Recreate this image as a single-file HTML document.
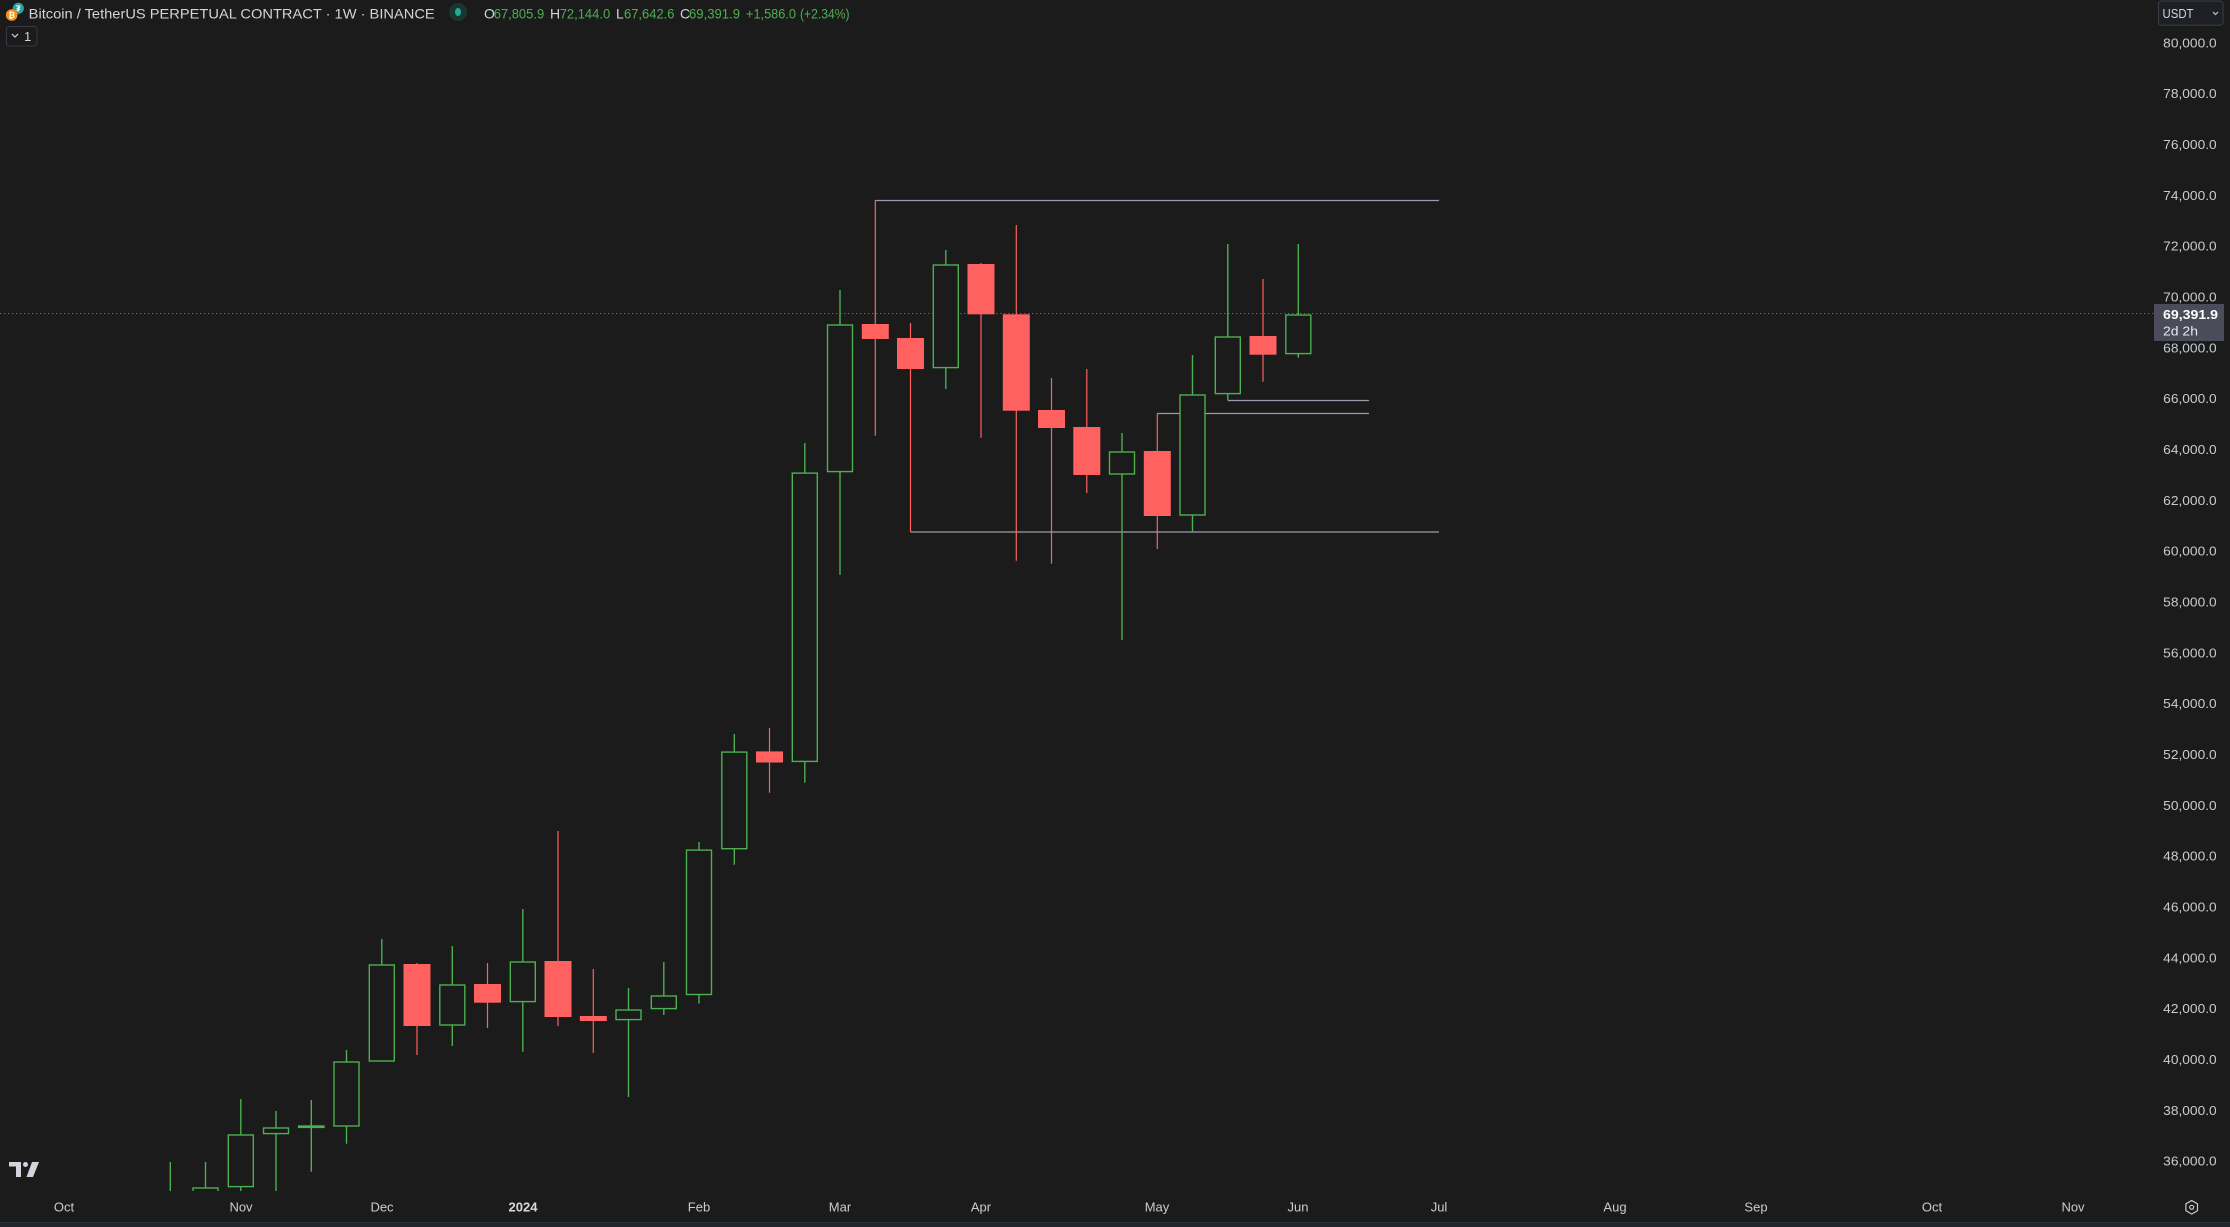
<!DOCTYPE html>
<html><head><meta charset="utf-8"><style>
html,body{margin:0;padding:0;background:#1b1b1b;}
svg{display:block;}
text{font-family:"Liberation Sans",sans-serif;}
</style></head><body>
<svg width="2230" height="1227" viewBox="0 0 2230 1227" xmlns="http://www.w3.org/2000/svg">
<rect x="0" y="0" width="2230" height="1227" fill="#1b1b1b"/>
<defs><clipPath id="cp"><rect x="0" y="0" width="2150" height="1191"/></clipPath></defs>

<!-- current price dotted line -->
<line x1="0" y1="313.5" x2="2154" y2="313.5" stroke="#5f626c" stroke-width="1" stroke-dasharray="1.5 2.5"/>

<g clip-path="url(#cp)">
<!-- drawn lines -->
<g stroke="#9d9cab" stroke-width="1.3" fill="none">
<line x1="875.3" y1="200.5" x2="1439" y2="200.5"/>
<line x1="910.5" y1="532" x2="1439" y2="532"/>
<line x1="1157.3" y1="413.5" x2="1369" y2="413.5"/>
<line x1="1227.8" y1="400.5" x2="1369" y2="400.5"/>
</g>

<!-- green candles -->
<g stroke="#4caf50" stroke-width="1.4" fill="#1b1b1b">
<line x1="170.3" y1="1162" x2="170.3" y2="1195"/>
<line x1="205.5" y1="1162" x2="205.5" y2="1195"/><rect x="193" y="1188" width="25" height="30"/>
<line x1="240.8" y1="1099" x2="240.8" y2="1195"/><rect x="228.3" y="1135" width="25" height="51.6"/>
<line x1="276" y1="1111" x2="276" y2="1195"/><rect x="263.5" y="1128" width="25" height="5.6"/>
<line x1="311.3" y1="1100" x2="311.3" y2="1171.7"/><rect x="298.6" y="1126" width="25.4" height="1.4" fill="#4caf50"/>
<line x1="346.5" y1="1050" x2="346.5" y2="1143.7"/><rect x="334" y="1062" width="25" height="64"/>
<line x1="381.8" y1="939" x2="381.8" y2="1061.7"/><rect x="369.3" y="965" width="25" height="96"/>
<line x1="452.3" y1="946" x2="452.3" y2="1046"/><rect x="439.8" y="985" width="25" height="40"/>
<line x1="522.8" y1="909" x2="522.8" y2="1051.7"/><rect x="510.3" y="962" width="25" height="39.6"/>
<line x1="628.5" y1="988" x2="628.5" y2="1097"/><rect x="616" y="1010" width="25" height="9.6"/>
<line x1="663.8" y1="962" x2="663.8" y2="1015"/><rect x="651.3" y="996" width="25" height="12.6"/>
<line x1="699" y1="842" x2="699" y2="1003.6"/><rect x="686.5" y="850.1" width="25" height="144.4"/>
<line x1="734.3" y1="734" x2="734.3" y2="864.7"/><rect x="721.8" y="752.1" width="25" height="96.6"/>
<line x1="804.8" y1="443" x2="804.8" y2="782.8"/><rect x="792.3" y="473.1" width="25" height="288.3"/>
<line x1="840" y1="290" x2="840" y2="574.7"/><rect x="827.5" y="325" width="25" height="146.6"/>
<line x1="945.8" y1="250" x2="945.8" y2="389"/><rect x="933.3" y="265" width="25" height="102.6"/>
<line x1="1122" y1="433" x2="1122" y2="640"/><rect x="1109.5" y="452" width="25" height="22"/>
<line x1="1192.5" y1="355" x2="1192.5" y2="532"/><rect x="1180" y="395" width="25" height="120"/>
<line x1="1227.8" y1="244" x2="1227.8" y2="400.3"/><rect x="1215.3" y="337" width="25" height="56.6"/>
<line x1="1298.3" y1="244" x2="1298.3" y2="357.7"/><rect x="1285.8" y="315" width="25" height="38.6"/>
</g>

<!-- red candles -->
<g stroke="#ff6161" stroke-width="1.2">
<line x1="417" y1="963" x2="417" y2="1055"/>
<line x1="487.5" y1="963" x2="487.5" y2="1028"/>
<line x1="558" y1="831" x2="558" y2="1026"/>
<line x1="593.3" y1="969" x2="593.3" y2="1053"/>
<line x1="769.5" y1="728" x2="769.5" y2="792.8"/>
<line x1="875.3" y1="200.3" x2="875.3" y2="435.7"/>
<line x1="910.5" y1="323" x2="910.5" y2="532"/>
<line x1="981" y1="263" x2="981" y2="437.7"/>
<line x1="1016.3" y1="225" x2="1016.3" y2="560.7"/>
<line x1="1051.5" y1="378" x2="1051.5" y2="563.7"/>
<line x1="1086.8" y1="369" x2="1086.8" y2="493"/>
<line x1="1157.3" y1="413.3" x2="1157.3" y2="549"/>
<line x1="1263" y1="279" x2="1263" y2="381.7"/>
</g>
<g fill="#ff6161">
<rect x="403.5" y="964" width="27" height="62"/>
<rect x="474" y="984" width="27" height="18.7"/>
<rect x="544.5" y="961" width="27" height="56"/>
<rect x="579.8" y="1016" width="27" height="5"/>
<rect x="756" y="751.4" width="27" height="11.1"/>
<rect x="861.8" y="324" width="27" height="15"/>
<rect x="897" y="338" width="27" height="31"/>
<rect x="967.5" y="264" width="27" height="50.3"/>
<rect x="1002.8" y="314.3" width="27" height="96.4"/>
<rect x="1038" y="410" width="27" height="18"/>
<rect x="1073.3" y="427" width="27" height="48"/>
<rect x="1143.8" y="451" width="27" height="65"/>
<rect x="1249.5" y="336" width="27" height="18.7"/>
</g>
</g>

<!-- header -->
<circle cx="18.3" cy="8.3" r="5.6" fill="#26a69a"/>
<text x="18.3" y="11.3" font-size="8" fill="#ffffff" text-anchor="middle" font-weight="bold">₮</text>
<circle cx="11.7" cy="15" r="5.8" fill="#f7931a"/>
<text x="11.7" y="18" font-size="8" fill="#ffffff" text-anchor="middle" font-weight="bold">₿</text>
<text x="28.7" y="18.3" font-size="14" fill="#d1d4dc" textLength="406" lengthAdjust="spacingAndGlyphs">Bitcoin / TetherUS PERPETUAL CONTRACT · 1W · BINANCE</text>
<circle cx="458" cy="12" r="9" fill="#1b3631"/>
<ellipse cx="458" cy="12" rx="3" ry="4" fill="#22ab94"/>
<g font-size="14">
<text x="484" y="18.3" fill="#d1d4dc">O</text>
<text x="493.7" y="18.3" fill="#4caf50" textLength="50.5" lengthAdjust="spacingAndGlyphs">67,805.9</text>
<text x="550" y="18.3" fill="#d1d4dc">H</text>
<text x="559.7" y="18.3" fill="#4caf50" textLength="50.5" lengthAdjust="spacingAndGlyphs">72,144.0</text>
<text x="616" y="18.3" fill="#d1d4dc">L</text>
<text x="624" y="18.3" fill="#4caf50" textLength="50.5" lengthAdjust="spacingAndGlyphs">67,642.6</text>
<text x="680" y="18.3" fill="#d1d4dc">C</text>
<text x="689" y="18.3" fill="#4caf50" textLength="51" lengthAdjust="spacingAndGlyphs">69,391.9</text>
<text x="746" y="18.3" fill="#4caf50" textLength="50" lengthAdjust="spacingAndGlyphs">+1,586.0</text>
<text x="800" y="18.3" fill="#4caf50" textLength="49.6" lengthAdjust="spacingAndGlyphs">(+2.34%)</text>
</g>
<rect x="6.5" y="26.5" width="30.5" height="19.5" rx="3" fill="none" stroke="#363a45" stroke-width="1"/>
<polyline points="12,34 15,37 18,34" fill="none" stroke="#d1d4dc" stroke-width="1.2"/>
<text x="24" y="41" font-size="13" fill="#d1d4dc">1</text>

<!-- price axis -->
<rect x="2158.5" y="1" width="64.5" height="24.3" rx="3" fill="#1e2026" stroke="#3a3e4b" stroke-width="1"/>
<text x="2162.5" y="18" font-size="13" fill="#d1d4dc" textLength="31" lengthAdjust="spacingAndGlyphs">USDT</text>
<polyline points="2213,12 2215.5,14.5 2218,12" fill="none" stroke="#d1d4dc" stroke-width="1.1"/>
<g font-size="13" fill="#c9cbd1" text-anchor="end">
<text x="2216.7" y="47.4" textLength="53.5" lengthAdjust="spacingAndGlyphs">80,000.0</text>
<text x="2216.7" y="98.2" textLength="53.5" lengthAdjust="spacingAndGlyphs">78,000.0</text>
<text x="2216.7" y="149.1" textLength="53.5" lengthAdjust="spacingAndGlyphs">76,000.0</text>
<text x="2216.7" y="199.9" textLength="53.5" lengthAdjust="spacingAndGlyphs">74,000.0</text>
<text x="2216.7" y="250.7" textLength="53.5" lengthAdjust="spacingAndGlyphs">72,000.0</text>
<text x="2216.7" y="301.5" textLength="53.5" lengthAdjust="spacingAndGlyphs">70,000.0</text>
<text x="2216.7" y="352.4" textLength="53.5" lengthAdjust="spacingAndGlyphs">68,000.0</text>
<text x="2216.7" y="403.2" textLength="53.5" lengthAdjust="spacingAndGlyphs">66,000.0</text>
<text x="2216.7" y="454.0" textLength="53.5" lengthAdjust="spacingAndGlyphs">64,000.0</text>
<text x="2216.7" y="504.9" textLength="53.5" lengthAdjust="spacingAndGlyphs">62,000.0</text>
<text x="2216.7" y="555.7" textLength="53.5" lengthAdjust="spacingAndGlyphs">60,000.0</text>
<text x="2216.7" y="606.5" textLength="53.5" lengthAdjust="spacingAndGlyphs">58,000.0</text>
<text x="2216.7" y="657.3" textLength="53.5" lengthAdjust="spacingAndGlyphs">56,000.0</text>
<text x="2216.7" y="708.2" textLength="53.5" lengthAdjust="spacingAndGlyphs">54,000.0</text>
<text x="2216.7" y="759.0" textLength="53.5" lengthAdjust="spacingAndGlyphs">52,000.0</text>
<text x="2216.7" y="809.8" textLength="53.5" lengthAdjust="spacingAndGlyphs">50,000.0</text>
<text x="2216.7" y="860.6" textLength="53.5" lengthAdjust="spacingAndGlyphs">48,000.0</text>
<text x="2216.7" y="911.5" textLength="53.5" lengthAdjust="spacingAndGlyphs">46,000.0</text>
<text x="2216.7" y="962.3" textLength="53.5" lengthAdjust="spacingAndGlyphs">44,000.0</text>
<text x="2216.7" y="1013.1" textLength="53.5" lengthAdjust="spacingAndGlyphs">42,000.0</text>
<text x="2216.7" y="1063.9" textLength="53.5" lengthAdjust="spacingAndGlyphs">40,000.0</text>
<text x="2216.7" y="1114.8" textLength="53.5" lengthAdjust="spacingAndGlyphs">38,000.0</text>
<text x="2216.7" y="1165.6" textLength="53.5" lengthAdjust="spacingAndGlyphs">36,000.0</text>
</g>
<rect x="2154" y="304" width="70" height="37" fill="#4a4d59"/>
<text x="2163" y="319" font-size="13" font-weight="bold" fill="#ffffff" textLength="55" lengthAdjust="spacingAndGlyphs">69,391.9</text>
<text x="2163" y="335.5" font-size="13" fill="#e8e9ed" textLength="35" lengthAdjust="spacingAndGlyphs">2d 2h</text>

<!-- time axis -->
<g font-size="13" fill="#c9cbd1" text-anchor="middle">
<text x="64" y="1211.4">Oct</text>
<text x="241" y="1211.4">Nov</text>
<text x="382" y="1211.4">Dec</text>
<text x="523" y="1211.4" font-weight="bold" fill="#d8dadf">2024</text>
<text x="699" y="1211.4">Feb</text>
<text x="840" y="1211.4">Mar</text>
<text x="981" y="1211.4">Apr</text>
<text x="1157" y="1211.4">May</text>
<text x="1298" y="1211.4">Jun</text>
<text x="1439" y="1211.4">Jul</text>
<text x="1615" y="1211.4">Aug</text>
<text x="1756" y="1211.4">Sep</text>
<text x="1932" y="1211.4">Oct</text>
<text x="2073" y="1211.4">Nov</text>
</g>
<polygon points="2191.7,1200.5 2197.5,1203.9 2197.5,1210.7 2191.7,1214.1 2185.9,1210.7 2185.9,1203.9" fill="none" stroke="#c9cbd1" stroke-width="1.2"/>
<circle cx="2191.7" cy="1207.3" r="2" fill="none" stroke="#c9cbd1" stroke-width="1.2"/>

<!-- logo -->
<g fill="#d1d4dc">
<path d="M9,1162 H21 V1177 H16 V1166.5 H9 Z"/>
<circle cx="25.5" cy="1164.5" r="2.5"/>
<path d="M32,1162 H39 L33,1177 H26.5 Z"/>
</g>

<rect x="0" y="1222" width="2230" height="5" fill="#22252d"/>
<line x1="0" y1="1222.5" x2="2230" y2="1222.5" stroke="#2c303a" stroke-width="1"/>
</svg>
</body></html>
